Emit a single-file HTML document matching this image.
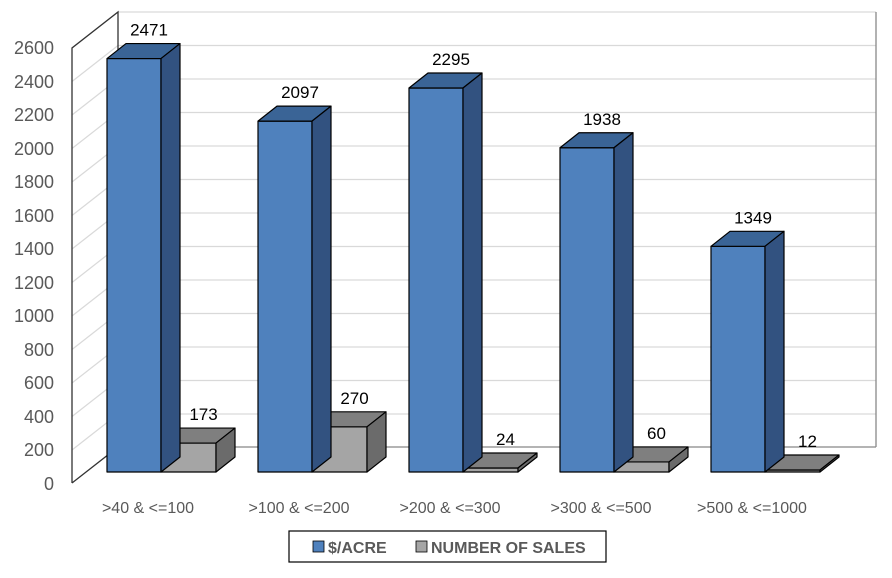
<!DOCTYPE html>
<html><head><meta charset="utf-8"><style>
html,body{margin:0;padding:0;background:#fff}
svg text{font-family:"Liberation Sans",Calibri,sans-serif}
</style></head><body>
<svg width="892" height="573" viewBox="0 0 892 573" xmlns="http://www.w3.org/2000/svg">
<rect width="892" height="573" fill="#fff"/>
<g stroke="#d9d9d9" stroke-width="1.2" fill="none">
<line x1="118" y1="12" x2="876" y2="12"/>
<line x1="118" y1="45.5" x2="876" y2="45.5"/><line x1="72" y1="81.5" x2="118" y2="45.5"/>
<line x1="118" y1="79" x2="876" y2="79"/><line x1="72" y1="115" x2="118" y2="79"/>
<line x1="118" y1="112.5" x2="876" y2="112.5"/><line x1="72" y1="148.5" x2="118" y2="112.5"/>
<line x1="118" y1="146" x2="876" y2="146"/><line x1="72" y1="182" x2="118" y2="146"/>
<line x1="118" y1="179.5" x2="876" y2="179.5"/><line x1="72" y1="215.5" x2="118" y2="179.5"/>
<line x1="118" y1="213" x2="876" y2="213"/><line x1="72" y1="249" x2="118" y2="213"/>
<line x1="118" y1="246.5" x2="876" y2="246.5"/><line x1="72" y1="282.5" x2="118" y2="246.5"/>
<line x1="118" y1="280" x2="876" y2="280"/><line x1="72" y1="316" x2="118" y2="280"/>
<line x1="118" y1="313.5" x2="876" y2="313.5"/><line x1="72" y1="349.5" x2="118" y2="313.5"/>
<line x1="118" y1="347" x2="876" y2="347"/><line x1="72" y1="383" x2="118" y2="347"/>
<line x1="118" y1="380.5" x2="876" y2="380.5"/><line x1="72" y1="416.5" x2="118" y2="380.5"/>
<line x1="118" y1="414" x2="876" y2="414"/><line x1="72" y1="450" x2="118" y2="414"/>
</g>
<g stroke="#333" stroke-width="1.3" fill="none">
<polyline points="72,483 72,48 118,12 118,447 72,483"/>
<line x1="118" y1="447" x2="876" y2="447" stroke="#888"/>
<line x1="876" y1="12" x2="876" y2="447" stroke="#888"/>
</g>
<g id="bars" stroke="#000" stroke-width="1.2" stroke-linejoin="round"></g>
<g font-size="18" fill="#595959" text-anchor="end">
<text x="54" y="490">0</text><text x="54" y="456">200</text><text x="54" y="423">400</text>
<text x="54" y="389">600</text><text x="54" y="356">800</text><text x="54" y="322">1000</text>
<text x="54" y="289">1200</text><text x="54" y="255">1400</text><text x="54" y="222">1600</text>
<text x="54" y="188">1800</text><text x="54" y="155">2000</text><text x="54" y="121">2200</text>
<text x="54" y="88">2400</text><text x="54" y="54">2600</text>
</g>
<g font-size="16" fill="#595959" text-anchor="middle">
<text x="148" y="513">&gt;40 &amp; &lt;=100</text>
<text x="299" y="513">&gt;100 &amp; &lt;=200</text>
<text x="450" y="513">&gt;200 &amp; &lt;=300</text>
<text x="601" y="513">&gt;300 &amp; &lt;=500</text>
<text x="752" y="513">&gt;500 &amp; &lt;=1000</text>
</g>
<rect x="289" y="531" width="317" height="31" fill="#fff" stroke="#000" stroke-width="1.2"/>
<rect x="313" y="541" width="11" height="11" fill="#4f81bd" stroke="#000" stroke-width="0.8"/>
<text x="328" y="553" font-size="16" font-weight="bold" fill="#595959">$/ACRE</text>
<rect x="416" y="541" width="11" height="11" fill="#a5a5a5" stroke="#000" stroke-width="0.8"/>
<text x="431" y="553" font-size="16" font-weight="bold" fill="#595959">NUMBER OF SALES</text>
<g id="labels" font-size="17" fill="#000" text-anchor="middle"></g>
<script>
var bv=[2471,2097,2295,1938,1349],gv=[173,270,24,60,12];
var s=435/2600,base=472,dx=19,dy=-15,ns="http://www.w3.org/2000/svg";
var g=document.getElementById('bars'),L=document.getElementById('labels');
function poly(pts,fill){var p=document.createElementNS(ns,'polygon');p.setAttribute('points',pts.map(function(a){return a.join(',')}).join(' '));p.setAttribute('fill',fill);g.appendChild(p);}
function bar(x,w,v,f,t,sd){var y=base-v*s;
poly([[x,y],[x+w,y],[x+w,base],[x,base]],f);
poly([[x,y],[x+dx,y+dy],[x+w+dx,y+dy],[x+w,y]],t);
poly([[x+w,y],[x+w+dx,y+dy],[x+w+dx,base+dy],[x+w,base]],sd);
var tx=document.createElementNS(ns,'text');tx.setAttribute('x',x+w/2+15);tx.setAttribute('y',y-23);tx.textContent=v;L.appendChild(tx);}
for(var i=0;i<5;i++){var x=107+151*i;
bar(x+54,55,gv[i],'#a5a5a5','#7f7f7f','#6b6b6b');
bar(x,54,bv[i],'#4f81bd','#3a6496','#325280');}
</script>
</svg>
</body></html>
